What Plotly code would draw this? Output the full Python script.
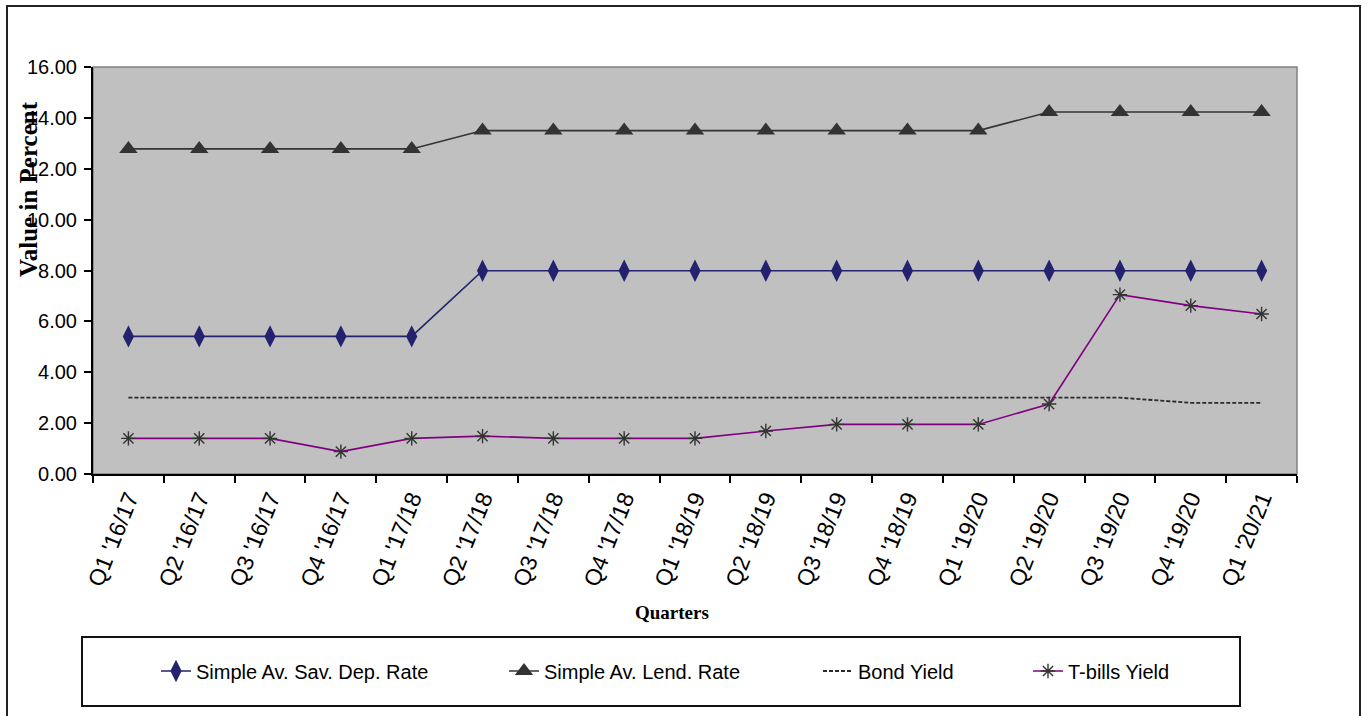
import plotly.graph_objects as go

# Quarterly interest-rate series (percent)
quarters = ["Q1 '16/17", "Q2 '16/17", "Q3 '16/17", "Q4 '16/17",
            "Q1 '17/18", "Q2 '17/18", "Q3 '17/18", "Q4 '17/18",
            "Q1 '18/19", "Q2 '18/19", "Q3 '18/19", "Q4 '18/19",
            "Q1 '19/20", "Q2 '19/20", "Q3 '19/20", "Q4 '19/20",
            "Q1 '20/21"]
sav_dep_rate = [5.41, 5.41, 5.41, 5.41, 5.41, 7.99, 7.99, 7.99, 7.99,
                7.99, 7.99, 7.99, 7.99, 7.99, 7.99, 7.99, 7.99]
lend_rate = [12.78, 12.78, 12.78, 12.78, 12.78, 13.5, 13.5, 13.5, 13.5,
             13.5, 13.5, 13.5, 13.5, 14.23, 14.23, 14.23, 14.23]
bond_yield = [3.0, 3.0, 3.0, 3.0, 3.0, 3.0, 3.0, 3.0, 3.0,
              3.0, 3.0, 3.0, 3.0, 3.0, 3.0, 2.8, 2.8]
tbill_yield = [1.40, 1.40, 1.40, 0.88, 1.40, 1.49, 1.40, 1.40, 1.40,
               1.69, 1.95, 1.95, 1.95, 2.75, 7.05, 6.62, 6.29]
y_ticks = [0, 2, 4, 6, 8, 10, 12, 14, 16]

SANS = "Liberation Sans, Arial, sans-serif"
SERIF = "Liberation Serif, Times New Roman, serif"

fig = go.Figure()

fig.add_trace(go.Scatter(
    x=quarters, y=sav_dep_rate, name="Simple Av. Sav. Dep. Rate",
    mode="lines+markers", legend="legend",
    line=dict(color="#22226E", width=1.6),
    marker=dict(symbol="diamond-tall", size=16, color="#22226E"),
))
fig.add_trace(go.Scatter(
    x=quarters, y=lend_rate, name="Simple Av. Lend. Rate",
    mode="lines+markers", legend="legend2",
    line=dict(color="#333333", width=1.6),
    marker=dict(symbol="triangle-up", size=16, color="#333333"),
))
fig.add_trace(go.Scatter(
    x=quarters, y=bond_yield, name="Bond Yield",
    mode="lines", legend="legend3",
    line=dict(color="#2A2A2A", width=1.8, dash="4px,2px"),
))
fig.add_trace(go.Scatter(
    x=quarters, y=tbill_yield, name="T-bills Yield",
    mode="lines+markers", legend="legend4",
    line=dict(color="#800080", width=1.6),
    marker=dict(symbol="asterisk-open", size=12, color="#333333",
                line=dict(color="#333333", width=1.4)),
))

# Plot-area geometry in pixels, used to place paper-space items
L, R, T, B = 93, 1297, 67, 474
W, H = R - L, B - T


def px_x(x):
    return (x - L) / W


def px_y(y):
    return (B - y) / H


legend_common = dict(
    orientation="h", yanchor="middle", xanchor="left",
    bgcolor="rgba(0,0,0,0)", borderwidth=0,
    font=dict(family=SANS, size=20, color="#000000"),
)
legend_text_x = [200, 548, 862, 1072]
fig.update_layout(
    legend=dict(x=px_x(legend_text_x[0] - 44), y=px_y(671), **legend_common),
    legend2=dict(x=px_x(legend_text_x[1] - 44), y=px_y(671), **legend_common),
    legend3=dict(x=px_x(legend_text_x[2] - 44), y=px_y(671), **legend_common),
    legend4=dict(x=px_x(legend_text_x[3] - 44), y=px_y(671), **legend_common),
)

fig.update_layout(
    width=1368, height=716,
    margin=dict(l=L, r=1368 - R, t=T, b=716 - B),
    paper_bgcolor="#FFFFFF",
    plot_bgcolor="#C0C0C0",
    showlegend=True,
    xaxis=dict(
        type="category", range=[-0.5, len(quarters) - 0.5],
        tickson="boundaries", ticks="outside", ticklen=7, tickwidth=1.5,
        tickcolor="#000000", showline=True, linecolor="#000000", linewidth=2,
        showgrid=False, zeroline=False, tickangle=-68,
        tickfont=dict(family=SANS, size=23, color="#000000"),
    ),
    yaxis=dict(
        range=[0, 16], tickvals=y_ticks,
        ticktext=[f"{v:.2f}" for v in y_ticks],
        ticks="outside", ticklen=7, tickwidth=1.5, tickcolor="#000000",
        ticklabelstandoff=3,
        showline=True, linecolor="#000000", linewidth=2,
        showgrid=False, zeroline=False,
        tickfont=dict(family=SANS, size=20, color="#000000"),
    ),
    shapes=[
        # plot-area frame (top and right edges show in grey)
        dict(type="rect", xref="paper", yref="paper", x0=0, x1=1, y0=0, y1=1,
             line=dict(color="#808080", width=1.5), layer="below"),
        # outer chart frame
        dict(type="rect", xref="paper", yref="paper",
             x0=px_x(7), x1=px_x(1360), y0=px_y(720), y1=px_y(6),
             line=dict(color="#222222", width=2)),
        # legend box
        dict(type="rect", xref="paper", yref="paper",
             x0=px_x(82), x1=px_x(1240), y0=px_y(706), y1=px_y(637),
             line=dict(color="#111111", width=2)),
    ],
    annotations=[
        dict(text="<b>Value in Percent</b>", xref="paper", yref="paper",
             x=px_x(28), y=px_y(189), textangle=-90, showarrow=False,
             xanchor="center", yanchor="middle",
             font=dict(family=SERIF, size=25, color="#000000")),
        dict(text="<b>Quarters</b>", xref="paper", yref="paper",
             x=px_x(672), y=px_y(612), showarrow=False,
             xanchor="center", yanchor="middle",
             font=dict(family=SERIF, size=19, color="#000000")),
    ],
)

fig.write_html("out.html")
